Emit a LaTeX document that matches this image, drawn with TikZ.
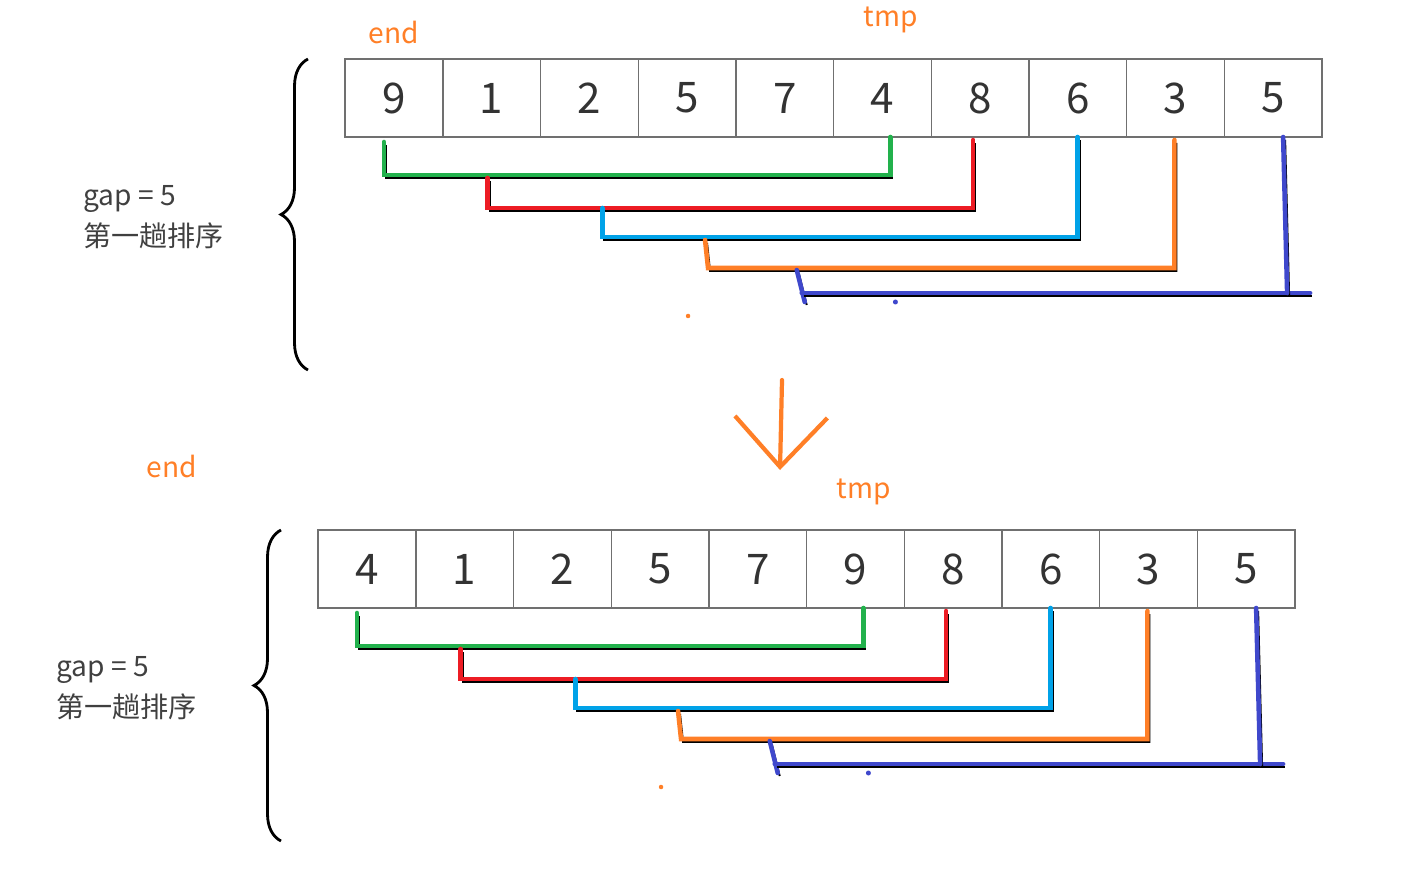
\documentclass[tikz,border=0pt]{standalone}
\usepackage{fontspec}
\setmainfont{Noto Sans CJK SC}
\usepackage{xcolor}
\usepackage{tikz}
\usetikzlibrary{arrows.meta,positioning,decorations.pathreplacing}
\definecolor{pgreen}{HTML}{22B14C}
\definecolor{pred}{HTML}{ED1C24}
\definecolor{pblue}{HTML}{00A2E8}
\definecolor{porange}{HTML}{FF7F27}
\definecolor{ppurple}{HTML}{3F48CC}
\definecolor{cellgray}{HTML}{707070}

\begin{document}
\begin{tikzpicture}[x=0.02cm, y=-0.02cm, node distance=0pt,
  cell/.style={draw=cellgray,line width=0.8pt,minimum width=1.954cm,minimum height=1.56cm,inner sep=0pt,outer sep=0pt,text=black!80,font=\fontsize{24}{26}\selectfont},
  ptrlabel/.style={text=porange,font=\fontsize{16}{18}\selectfont},
  passlabel/.style={align=left,anchor=west,text=black!75,font=\fontsize{16}{23}\selectfont},
  pairline/.style={draw=#1,line width=2.6pt,line cap=round,preaction={draw=black,line width=1.1pt,transform canvas={shift={(2,3)}}}},
  sortbrace/.style={decorate,decoration={brace,amplitude=0.54cm},line width=1.6pt},
  bigarrow/.style={draw=porange,line width=2.4pt,line cap=round,-{Straight Barb[length=1cm,width=1.85cm]}}]
  \useasboundingbox (0,0) rectangle (1405,876);

  % first pass
  \node[cell] (t0) at (394,98) {9};
  \node[cell,right=of t0] (t1) {1};
  \node[cell,right=of t1] (t2) {2};
  \node[cell,right=of t2] (t3) {5};
  \node[cell,right=of t3] (t4) {7};
  \node[cell,right=of t4] (t5) {4};
  \node[cell,right=of t5] (t6) {8};
  \node[cell,right=of t6] (t7) {6};
  \node[cell,right=of t7] (t8) {3};
  \node[cell,right=of t8] (t9) {5};
  \node[ptrlabel] (tend) at (394,32) {end};
  \node[ptrlabel] (ttmp) at (891,20) {tmp};
  \node[passlabel] (tgap) at (77,217) {gap = 5\\第一趟排序};
  \draw[sortbrace] (308,370) -- (308,59);

  \draw[pairline=pgreen] ([shift={(-10,5)}]t0.south) -- ++(0,33) -| ([shift={(8,0)}]t5.south);
  \draw[pairline=pred] ([shift={(-4,41)}]t1.south) -- ++(0,30) -| ([shift={(-7,3)}]t6.south);
  \draw[pairline=pblue] ([shift={(13,71)}]t2.south) -- ++(0,29) -| ([shift={(0,0)}]t7.south);
  \draw[pairline=porange] ([shift={(18,103)}]t3.south) -- ++(3,28) -| ([shift={(-1,3)}]t8.south);
  \draw[pairline=ppurple] ([shift={(12,133)}]t4.south) -- ++(8,32);
  \draw[pairline=ppurple] ([shift={(17,156)}]t4.south) -- ([shift={(37,156)}]t9.south);
  \draw[pairline=ppurple] ([shift={(10,0)}]t9.south) -- ++(4,156);
  \fill[ppurple] ([shift={(13,165)}]t5.south) circle (0.05cm);
  \fill[porange] ([shift={(1,179)}]t3.south) circle (0.045cm);

  % arrow between the passes
  \coordinate (arrtop) at (782,380);
  \coordinate (arrtip) at (780,470);
  \draw[bigarrow] (arrtop) -- (arrtip);

  % after the first swap
  \node[cell] (b0) at (367,569) {4};
  \node[cell,right=of b0] (b1) {1};
  \node[cell,right=of b1] (b2) {2};
  \node[cell,right=of b2] (b3) {5};
  \node[cell,right=of b3] (b4) {7};
  \node[cell,right=of b4] (b5) {9};
  \node[cell,right=of b5] (b6) {8};
  \node[cell,right=of b6] (b7) {6};
  \node[cell,right=of b7] (b8) {3};
  \node[cell,right=of b8] (b9) {5};
  \node[ptrlabel] (bend) at (172,466) {end};
  \node[ptrlabel] (btmp) at (864,492) {tmp};
  \node[passlabel] (bgap) at (50,688) {gap = 5\\第一趟排序};
  \draw[sortbrace] (281,841) -- (281,530);

  \draw[pairline=pgreen] ([shift={(-10,5)}]b0.south) -- ++(0,33) -| ([shift={(8,0)}]b5.south);
  \draw[pairline=pred] ([shift={(-4,41)}]b1.south) -- ++(0,30) -| ([shift={(-7,3)}]b6.south);
  \draw[pairline=pblue] ([shift={(13,71)}]b2.south) -- ++(0,29) -| ([shift={(0,0)}]b7.south);
  \draw[pairline=porange] ([shift={(18,103)}]b3.south) -- ++(3,28) -| ([shift={(-1,3)}]b8.south);
  \draw[pairline=ppurple] ([shift={(12,133)}]b4.south) -- ++(8,32);
  \draw[pairline=ppurple] ([shift={(17,156)}]b4.south) -- ([shift={(37,156)}]b9.south);
  \draw[pairline=ppurple] ([shift={(10,0)}]b9.south) -- ++(4,156);
  \fill[ppurple] ([shift={(13,165)}]b5.south) circle (0.05cm);
  \fill[porange] ([shift={(1,179)}]b3.south) circle (0.045cm);
\end{tikzpicture}
\end{document}
